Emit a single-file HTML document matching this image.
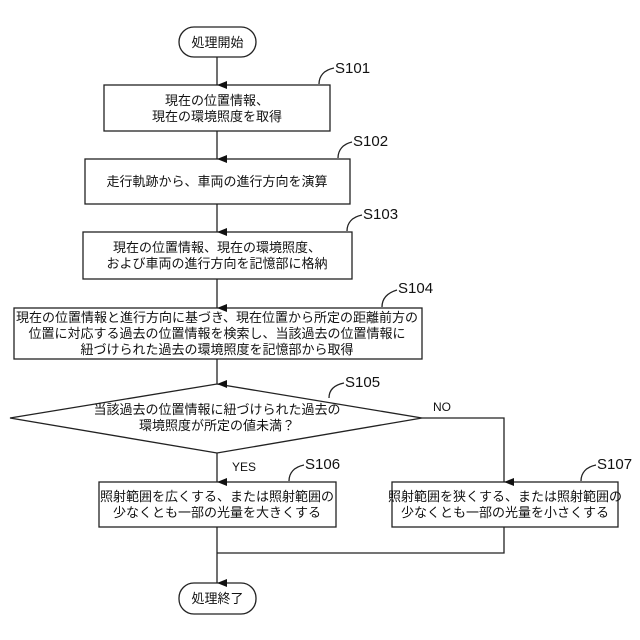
<!DOCTYPE html>
<html><head><meta charset="utf-8"><style>
html,body{margin:0;padding:0;background:#fff;}
svg{display:block;}
.t{font-family:"Liberation Sans","Noto Sans CJK JP",sans-serif;font-size:13px;fill:#111;text-anchor:middle;}
.l{font-family:"Liberation Sans",sans-serif;font-size:15px;fill:#111;}
</style></head><body>
<svg width="640" height="640" viewBox="0 0 640 640" xmlns="http://www.w3.org/2000/svg">
<defs><marker id="a" markerWidth="8" markerHeight="10" refX="4" refY="10" orient="auto" markerUnits="userSpaceOnUse"><path d="M0,0 L8,0 L4,10 Z" fill="#111"/></marker></defs>
<g fill="none" stroke="#222" stroke-width="1.3">
<rect x="179" y="27" width="77" height="30" rx="15"/>
<rect x="104" y="85" width="226" height="46"/>
<rect x="85" y="159" width="265" height="45"/>
<rect x="83" y="232" width="269" height="47"/>
<rect x="14" y="308" width="408" height="51"/>
<polygon points="217,384 422,418 217,453 10,418"/>
<rect x="99" y="482" width="237" height="45"/>
<rect x="392" y="482" width="226" height="45"/>
<rect x="179" y="583" width="77" height="31" rx="15"/>
<line x1="217" y1="57" x2="217" y2="85" marker-end="url(#a)"/>
<line x1="217" y1="131" x2="217" y2="159" marker-end="url(#a)"/>
<line x1="217" y1="204" x2="217" y2="232" marker-end="url(#a)"/>
<line x1="217" y1="279" x2="217" y2="308" marker-end="url(#a)"/>
<line x1="217" y1="359" x2="217" y2="384" marker-end="url(#a)"/>
<line x1="217" y1="453" x2="217" y2="482" marker-end="url(#a)"/>
<polyline points="422,418 504,418 504,482" marker-end="url(#a)"/>
<line x1="217" y1="527" x2="217" y2="583" marker-end="url(#a)"/>
<polyline points="504,527 504,553 217,553"/>
<path d="M319,84 C319,76 324,70 334,68"/>
<path d="M338,158 C338,150 343,144 352,142"/>
<path d="M347,231 C347,223 352,217 362,215"/>
<path d="M382,307 C382,299 387,293 397,290"/>
<path d="M329,398 C329,390 334,385 344,383"/>
<path d="M289,481 C289,473 294,467 304,465"/>
<path d="M581,481 C581,473 586,467 596,465"/>
</g>
<text class="t" x="217.5" y="47">処理開始</text>
<text class="t" x="217" y="105">現在の位置情報、</text>
<text class="t" x="217" y="121">現在の環境照度を取得</text>
<text class="t" x="217" y="186">走行軌跡から、車両の進行方向を演算</text>
<text class="t" x="217" y="252">現在の位置情報、現在の環境照度、</text>
<text class="t" x="217" y="268">および車両の進行方向を記憶部に格納</text>
<text class="t" x="217" y="322">現在の位置情報と進行方向に基づき、現在位置から所定の距離前方の</text>
<text class="t" x="217" y="338">位置に対応する過去の位置情報を検索し、当該過去の位置情報に</text>
<text class="t" x="217" y="354">紐づけられた過去の環境照度を記憶部から取得</text>
<text class="t" x="217" y="414">当該過去の位置情報に紐づけられた過去の</text>
<text class="t" x="217" y="430">環境照度が所定の値未満？</text>
<text class="t" x="217" y="501">照射範囲を広くする、または照射範囲の</text>
<text class="t" x="217" y="517">少なくとも一部の光量を大きくする</text>
<text class="t" x="505" y="501">照射範囲を狭くする、または照射範囲の</text>
<text class="t" x="505" y="517">少なくとも一部の光量を小さくする</text>
<text class="t" x="217.5" y="603">処理終了</text>
<text class="l" x="335" y="73">S101</text>
<text class="l" x="353" y="146">S102</text>
<text class="l" x="363" y="219">S103</text>
<text class="l" x="398" y="293">S104</text>
<text class="l" x="345" y="387">S105</text>
<text class="l" x="305" y="469">S106</text>
<text class="l" x="597" y="469">S107</text>
<text class="l" x="433" y="411" style="font-size:12px">NO</text>
<text class="l" x="232" y="471" style="font-size:12px">YES</text>
</svg>
</body></html>
